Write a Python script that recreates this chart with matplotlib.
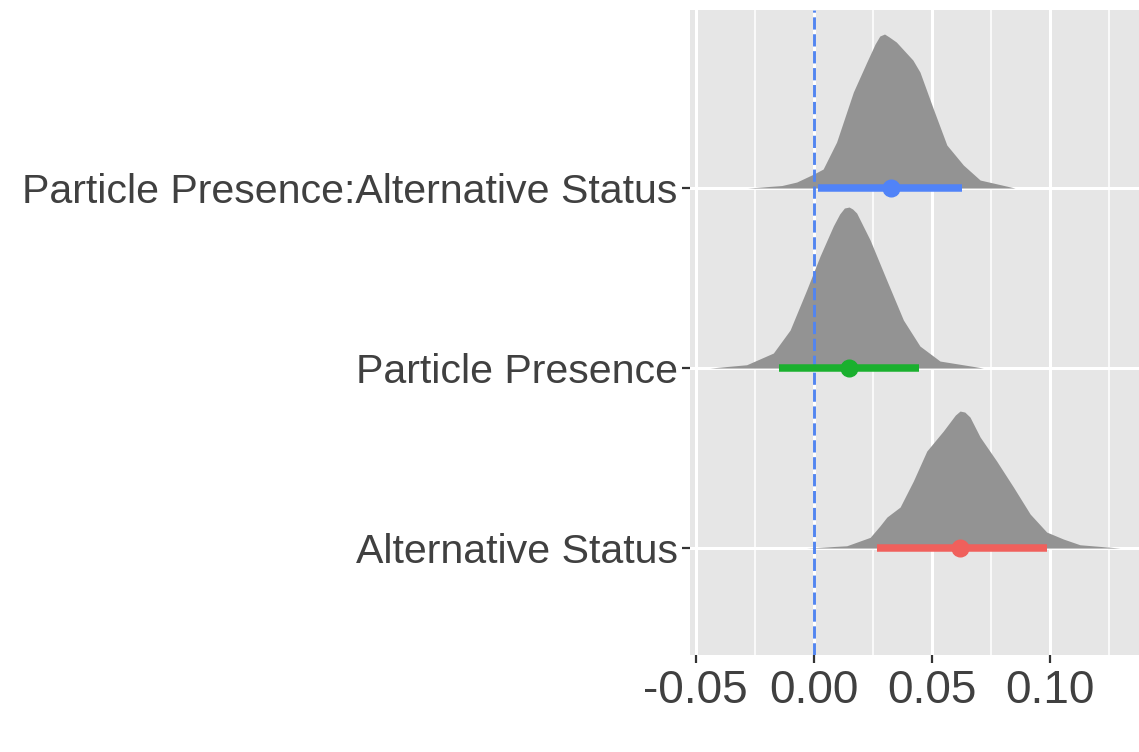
import matplotlib
matplotlib.use("Agg")
import matplotlib.pyplot as plt
import numpy as np

plt.rcParams['font.family'] = ['Liberation Sans', 'DejaVu Sans']

# rows, bottom to top
terms = ['Alternative Status', 'Particle Presence', 'Particle Presence:Alternative Status']
colors = ['#F0605C', '#1AB02E', '#5083F8']

# point estimate and interval
est = [0.062, 0.015, 0.0326]
lo = [0.027, -0.0146, 0.002]
hi = [0.0987, 0.0445, 0.0627]

# posterior density outlines (x, height in px of a 180 px row)
dens_x = [
    [-0.003, 0.014, 0.0239, 0.028, 0.031, 0.0366, 0.0422, 0.0479, 0.0549, 0.060, 0.062, 0.064,
     0.0662, 0.0705, 0.0775, 0.0846, 0.0917, 0.0987, 0.1058, 0.1128, 0.1298],
    [-0.044, -0.0284, -0.0171, -0.010, -0.003, 0.0027, 0.0083, 0.011, 0.013, 0.015, 0.0165,
     0.0182, 0.0239, 0.0309, 0.038, 0.045, 0.0535, 0.0719],
    [-0.028, -0.0135, -0.0072, 0.0, 0.004, 0.0097, 0.0168, 0.0225, 0.026, 0.028, 0.030, 0.032,
     0.035, 0.042, 0.045, 0.0507, 0.0564, 0.0634, 0.0705, 0.0853],
]
dens_h = [
    [0, 2.3, 10.7, 22, 31, 41, 67, 97, 117, 133, 137, 136, 131, 111, 87, 61, 34, 16, 9, 3.3, 0],
    [0, 3.3, 15, 38, 78, 112, 142, 154, 160, 161, 159, 155, 128, 88, 48, 22, 7, 0],
    [0, 2.5, 6, 14, 19, 46, 96, 126, 144, 152, 154, 151, 146, 128, 116, 79, 43, 23, 8, 0],
]
row_px = 180.0

fig = plt.figure(figsize=(11.39, 7.52), dpi=100)
ax = fig.add_axes([0.6058, 0.129, 0.3942, 0.8577])
ax.set_facecolor('#E6E6E6')

for i in range(len(terms)):
    base = i + 1
    h = np.array(dens_h[i]) / row_px
    ax.fill_between(dens_x[i], base, base + h, color='#939393', lw=0, zorder=2)

ax.axvline(0, color='#5285F0', lw=2.1, ls=(0, (4.2, 1.6)), zorder=3)

for i in range(len(terms)):
    base = i + 1
    ax.plot([lo[i], hi[i]], [base, base], color=colors[i], lw=5.4,
            solid_capstyle='butt', zorder=4)
    ax.plot(est[i], base, 'o', color=colors[i], ms=12, zorder=5)

ax.set_xlim(-0.0524, 0.1378)
ax.set_ylim(0.406, 3.989)
ax.set_xticks([-0.05, 0.0, 0.05, 0.10])
ax.set_xticklabels(['-0.05', '0.00', '0.05', '0.10'])
ax.set_xticks([-0.025, 0.025, 0.075, 0.125], minor=True)
ax.set_yticks([1, 2, 3])
ax.set_yticklabels(terms)

ax.set_axisbelow(True)
ax.grid(True, which='major', color='white', lw=2.2)
ax.grid(True, which='minor', axis='x', color='white', lw=1.1)
for s in ax.spines.values():
    s.set_visible(False)
ax.tick_params(axis='y', which='major', length=6, width=1.6, color='#333333',
               labelsize=29.6, labelcolor='#404040', pad=3)
ax.tick_params(axis='x', which='major', length=6, width=1.6, color='#333333',
               labelsize=33, labelcolor='#404040', pad=4)
ax.tick_params(axis='x', which='minor', length=0)

fig.savefig('out.png', dpi=100)
